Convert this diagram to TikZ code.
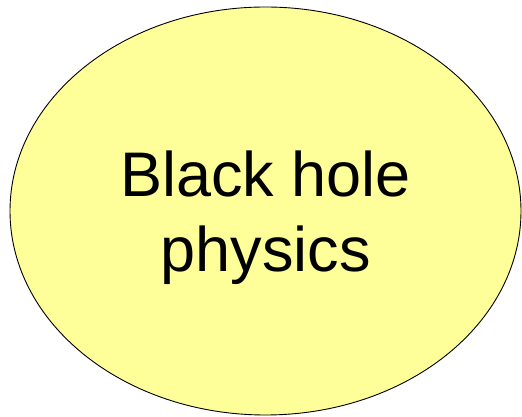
\documentclass[tikz,border=0pt]{standalone}
\usepackage{fontspec}
\setmainfont{Liberation Sans}
\usetikzlibrary{shapes.geometric, positioning}
\definecolor{paleyellow}{HTML}{FFFF99}
\tikzset{
    % topic bubble
    topic/.style={
        ellipse, draw=black, fill=paleyellow, line width=0.9pt,
        minimum width=511pt, minimum height=408pt, inner sep=0pt
    },
    topictext/.style={
        align=center, inner sep=0pt,
        font=\fontsize{63}{75}\selectfont
    }
}
\begin{document}
\begin{tikzpicture}[x=1pt, y=1pt]
    \useasboundingbox (0,0) rectangle (522,417);
    \node[topic] (Bubble) at (265.5,206) {};
    \node[topictext] (Title) at ([yshift=-7pt]Bubble.center) {Black hole\\physics};
\end{tikzpicture}
\end{document}
